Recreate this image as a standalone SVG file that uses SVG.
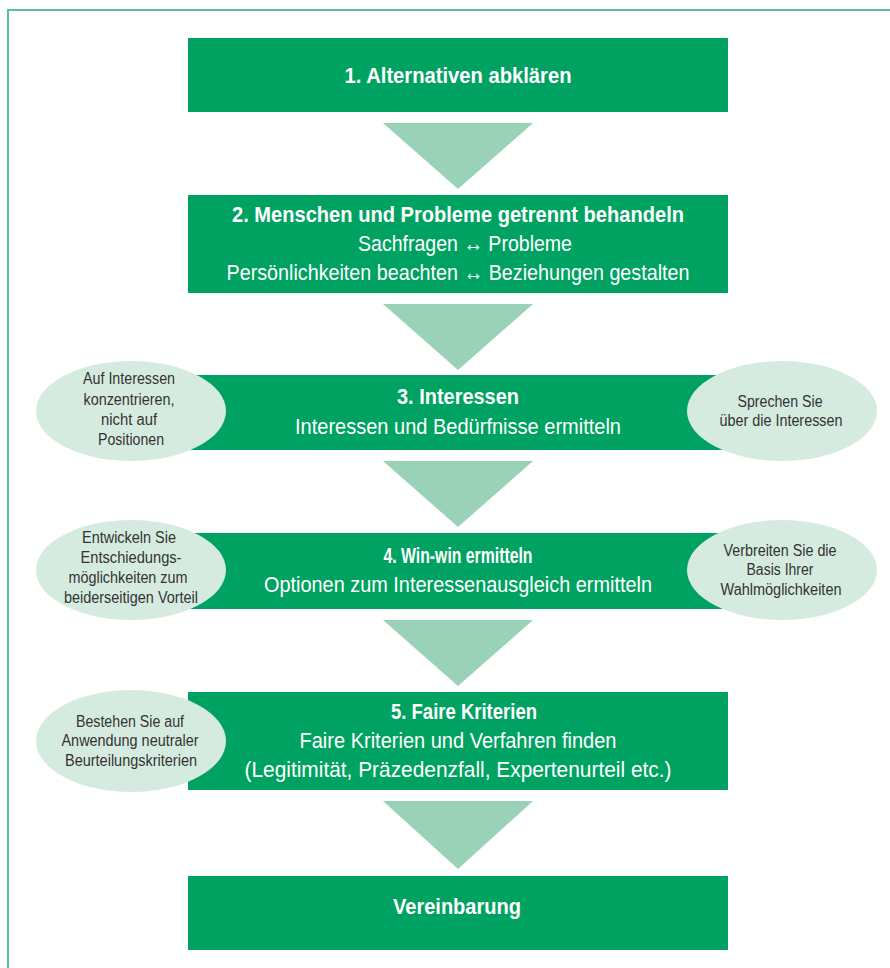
<svg xmlns="http://www.w3.org/2000/svg" width="890" height="968" viewBox="0 0 890 968">
<style>
.box{fill:#00a262}
.tri{fill:#99d2b6}
.ell{fill:#d6ebe0}
.t{font-family:"Liberation Sans",Arial,sans-serif;fill:#fff;font-size:22.5px;text-anchor:middle}
.b{font-weight:bold}
.e{font-family:"Liberation Sans",Arial,sans-serif;fill:#333;font-size:16px;text-anchor:middle}
</style>
<rect width="890" height="968" fill="#fff"/>
<path d="M8,968 V10 H890" fill="none" stroke="#5cc090" stroke-width="2"/>
<g id="connectors">
<polygon class="tri" points="383,123 533,123 458,189"/>
<polygon class="tri" points="383,304 533,304 458,370"/>
<polygon class="tri" points="383,461 533,461 458,527"/>
<polygon class="tri" points="383,620 533,620 458,686"/>
<polygon class="tri" points="383,801 533,801 458,869"/>
</g>
<g id="step1">
<rect class="box" x="188" y="38" width="540" height="74"/>
<text class="t b" x="458" y="83" textLength="227" lengthAdjust="spacingAndGlyphs">1. Alternativen abklären</text>
</g>
<g id="step2">
<rect class="box" x="188" y="195" width="540" height="98"/>
<text class="t b" x="458" y="222" textLength="452" lengthAdjust="spacingAndGlyphs">2. Menschen und Probleme getrennt behandeln</text>
<text class="t" x="465" y="251" textLength="214" lengthAdjust="spacingAndGlyphs">Sachfragen ↔ Probleme</text>
<text class="t" x="458" y="280" textLength="463" lengthAdjust="spacingAndGlyphs">Persönlichkeiten beachten ↔ Beziehungen gestalten</text>
</g>
<g id="step3">
<rect class="box" x="188" y="375" width="540" height="75"/>
<text class="t b" x="458" y="404" textLength="122" lengthAdjust="spacingAndGlyphs">3. Interessen</text>
<text class="t" x="458" y="434" textLength="326" lengthAdjust="spacingAndGlyphs">Interessen und Bedürfnisse ermitteln</text>
</g>
<g id="step4">
<rect class="box" x="188" y="533" width="540" height="76"/>
<text class="t b" x="458" y="563" textLength="149" lengthAdjust="spacingAndGlyphs">4. Win-win ermitteln</text>
<text class="t" x="458" y="592" textLength="388" lengthAdjust="spacingAndGlyphs">Optionen zum Interessenausgleich ermitteln</text>
</g>
<g id="step5">
<rect class="box" x="188" y="692" width="540" height="98"/>
<text class="t b" x="464" y="719" textLength="146" lengthAdjust="spacingAndGlyphs">5. Faire Kriterien</text>
<text class="t" x="458" y="748" textLength="317" lengthAdjust="spacingAndGlyphs">Faire Kriterien und Verfahren finden</text>
<text class="t" x="458" y="777" textLength="427" lengthAdjust="spacingAndGlyphs">(Legitimität, Präzedenzfall, Expertenurteil etc.)</text>
</g>
<g id="result">
<rect class="box" x="188" y="876" width="540" height="74"/>
<text class="t b" x="457" y="914" textLength="128" lengthAdjust="spacingAndGlyphs">Vereinbarung</text>
</g>
<g id="note3left">
<ellipse class="ell" cx="131" cy="411" rx="95" ry="50"/>
<text class="e" x="129" y="384" textLength="92" lengthAdjust="spacingAndGlyphs">Auf Interessen</text>
<text class="e" x="129" y="405" textLength="91" lengthAdjust="spacingAndGlyphs">konzentrieren,</text>
<text class="e" x="129" y="425" textLength="56" lengthAdjust="spacingAndGlyphs">nicht auf</text>
<text class="e" x="131" y="445" textLength="66" lengthAdjust="spacingAndGlyphs">Positionen</text>
</g>
<g id="note3right">
<ellipse class="ell" cx="782" cy="411" rx="95" ry="50"/>
<text class="e" x="780" y="407" textLength="85" lengthAdjust="spacingAndGlyphs">Sprechen Sie</text>
<text class="e" x="781" y="426" textLength="123" lengthAdjust="spacingAndGlyphs">über die Interessen</text>
</g>
<g id="note4left">
<ellipse class="ell" cx="131" cy="570" rx="95" ry="50"/>
<text class="e" x="129" y="543" textLength="94" lengthAdjust="spacingAndGlyphs">Entwickeln Sie</text>
<text class="e" x="131" y="563" textLength="101" lengthAdjust="spacingAndGlyphs">Entschiedungs-</text>
<text class="e" x="128" y="583" textLength="119" lengthAdjust="spacingAndGlyphs">möglichkeiten zum</text>
<text class="e" x="131" y="603" textLength="134" lengthAdjust="spacingAndGlyphs">beiderseitigen Vorteil</text>
</g>
<g id="note4right">
<ellipse class="ell" cx="782" cy="570" rx="95" ry="50"/>
<text class="e" x="780" y="556" textLength="113" lengthAdjust="spacingAndGlyphs">Verbreiten Sie die</text>
<text class="e" x="780" y="575" textLength="67" lengthAdjust="spacingAndGlyphs">Basis Ihrer</text>
<text class="e" x="781" y="595" textLength="121" lengthAdjust="spacingAndGlyphs">Wahlmöglichkeiten</text>
</g>
<g id="note5left">
<ellipse class="ell" cx="131" cy="741" rx="95" ry="51"/>
<text class="e" x="130" y="727" textLength="108" lengthAdjust="spacingAndGlyphs">Bestehen Sie auf</text>
<text class="e" x="130" y="746" textLength="137" lengthAdjust="spacingAndGlyphs">Anwendung neutraler</text>
<text class="e" x="131" y="766" textLength="132" lengthAdjust="spacingAndGlyphs">Beurteilungskriterien</text>
</g>
</svg>
